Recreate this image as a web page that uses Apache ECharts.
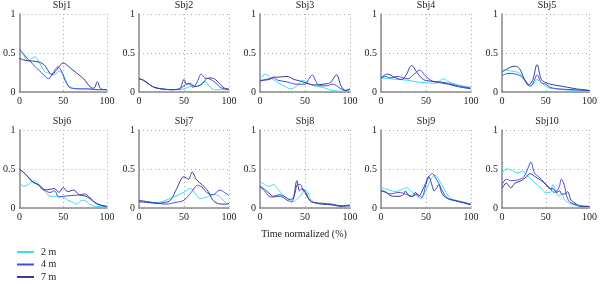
<!DOCTYPE html>
<html>
<head>
<meta charset="utf-8">
<script src="https://cdn.jsdelivr.net/npm/echarts@6/dist/echarts.min.js"></script>
<style>
    html, body { margin: 0; padding: 0; background: #fff; }
    #chart_content { width: 600px; height: 284px; }
    #err { position: absolute; left: 0; top: 0; font: 9px monospace; white-space: pre-wrap; width: 600px; }
</style>
</head>
<body>
<div id="chart_content"></div>
<div id="err"></div>
<script>
// subjects and series
var subjects = ["Sbj1", "Sbj2", "Sbj3", "Sbj4", "Sbj5", "Sbj6", "Sbj7", "Sbj8", "Sbj9", "Sbj10"];
var seriesNames = ["2 m", "4 m", "7 m"];
var xTicks = [0, 50, 100];
var yTicks = [0, 0.5, 1];

// [time %, value]
var sbj1_2m = [[0,.55],[5,.47],[10,.40],[15,.44],[18,.45],[21,.41],[25,.33],[30,.25],[35,.24],[40,.22],[45,.27],[50,.22],[55,.10],[60,.05],[65,.04],[75,.04],[85,.03],[100,.03]];
var sbj1_4m = [[0,.55],[5,.48],[10,.42],[15,.36],[20,.30],[25,.25],[30,.19],[33,.17],[38,.24],[44,.32],[48,.27],[52,.15],[57,.06],[60,.05],[70,.04],[80,.04],[90,.03],[100,.03]];
var sbj1_7m = [[0,.43],[5,.41],[10,.40],[20,.39],[28,.35],[33,.27],[37,.22],[42,.28],[50,.37],[55,.34],[60,.29],[68,.22],[75,.15],[81,.06],[85,.05],[89,.13],[93,.04],[100,.03]];

var sbj2_2m = [[0,.17],[5,.15],[10,.11],[15,.07],[20,.05],[25,.04],[35,.03],[45,.03],[50,.04],[55,.06],[60,.08],[65,.07],[72,.13],[75,.12],[80,.05],[85,.03],[100,.03]];
var sbj2_4m = [[0,.17],[5,.15],[10,.11],[15,.07],[20,.05],[25,.04],[35,.03],[45,.04],[50,.08],[55,.11],[60,.06],[65,.14],[69,.23],[73,.18],[78,.17],[85,.12],[90,.06],[95,.04],[100,.03]];
var sbj2_7m = [[0,.17],[5,.15],[10,.11],[15,.07],[20,.05],[25,.04],[35,.03],[45,.04],[50,.16],[53,.10],[57,.11],[62,.07],[70,.10],[75,.17],[80,.18],[85,.16],[90,.10],[95,.05],[100,.04]];

var sbj3_2m = [[0,.17],[6,.23],[12,.18],[20,.12],[28,.07],[34,.04],[40,.07],[48,.15],[53,.12],[60,.08],[70,.06],[80,.02],[90,.01],[100,.03]];
var sbj3_4m = [[0,.14],[10,.17],[15,.18],[20,.15],[30,.13],[40,.10],[50,.10],[54,.16],[58,.22],[62,.14],[66,.08],[75,.08],[80,.10],[85,.08],[90,.04],[95,.02],[100,.04]];
var sbj3_7m = [[0,.15],[10,.16],[15,.19],[20,.19],[30,.20],[38,.16],[45,.14],[55,.10],[60,.09],[70,.10],[78,.12],[85,.22],[90,.08],[95,.02],[100,.04]];

var sbj4_2m = [[0,.18],[10,.17],[20,.16],[30,.15],[40,.13],[50,.12],[60,.11],[66,.15],[70,.17],[74,.14],[80,.11],[90,.08],[100,.06]];
var sbj4_4m = [[0,.18],[5,.20],[10,.18],[19,.20],[25,.18],[30,.17],[36,.22],[43,.28],[50,.20],[57,.14],[65,.13],[75,.11],[85,.08],[100,.05]];
var sbj4_7m = [[0,.18],[7,.23],[15,.19],[23,.16],[28,.22],[34,.34],[40,.25],[47,.16],[55,.14],[65,.12],[75,.10],[85,.07],[100,.04]];

var sbj5_2m = [[0,.29],[10,.27],[20,.24],[27,.13],[32,.07],[37,.12],[40,.16],[45,.12],[52,.06],[60,.04],[70,.03],[85,.02],[100,.02]];
var sbj5_4m = [[0,.21],[8,.24],[15,.23],[22,.20],[30,.10],[33,.08],[37,.15],[40,.22],[45,.12],[50,.10],[55,.06],[65,.04],[80,.03],[100,.02]];
var sbj5_7m = [[0,.25],[8,.31],[15,.33],[20,.30],[25,.18],[30,.09],[35,.15],[40,.35],[45,.16],[50,.12],[55,.10],[65,.08],[75,.06],[85,.04],[100,.02]];

var sbj6_2m = [[0,.32],[5,.28],[10,.30],[17,.35],[22,.30],[30,.20],[35,.15],[42,.15],[50,.14],[55,.10],[60,.08],[65,.05],[72,.10],[76,.09],[80,.05],[88,.02],[100,.02]];
var sbj6_4m = [[0,.50],[8,.42],[15,.33],[22,.30],[30,.22],[35,.20],[40,.22],[45,.14],[50,.15],[60,.16],[70,.17],[74,.18],[80,.14],[87,.06],[95,.03],[100,.02]];
var sbj6_7m = [[0,.50],[8,.42],[15,.34],[22,.29],[28,.23],[35,.24],[40,.25],[45,.20],[50,.26],[55,.21],[62,.23],[68,.17],[73,.16],[78,.14],[85,.08],[92,.04],[100,.02]];

var sbj7_2m = [[0,.09],[10,.08],[20,.07],[30,.10],[40,.15],[50,.20],[57,.25],[63,.18],[68,.12],[75,.14],[82,.17],[86,.17],[92,.12],[97,.06],[100,.04]];
var sbj7_4m = [[0,.10],[10,.08],[20,.06],[30,.05],[40,.07],[50,.10],[58,.20],[65,.29],[70,.27],[75,.20],[82,.17],[90,.23],[95,.20],[100,.16]];
var sbj7_7m = [[0,.08],[10,.07],[20,.06],[28,.07],[35,.10],[42,.25],[50,.40],[55,.37],[59,.46],[64,.36],[70,.30],[75,.24],[77,.21],[82,.10],[87,.06],[92,.05],[97,.05],[100,.06]];

var sbj8_2m = [[0,.35],[5,.30],[10,.28],[15,.30],[20,.24],[27,.15],[33,.10],[37,.08],[42,.12],[46,.17],[50,.24],[53,.20],[57,.10],[62,.06],[70,.05],[80,.04],[90,.03],[100,.03]];
var sbj8_4m = [[0,.27],[5,.22],[10,.15],[15,.14],[20,.15],[25,.14],[30,.10],[35,.08],[38,.15],[42,.30],[45,.30],[48,.22],[51,.20],[55,.10],[60,.07],[70,.06],[80,.05],[90,.03],[100,.04]];
var sbj8_7m = [[0,.28],[5,.24],[10,.19],[15,.15],[22,.17],[28,.14],[33,.11],[37,.13],[41,.35],[44,.22],[47,.25],[51,.18],[55,.10],[60,.07],[70,.05],[80,.04],[90,.02],[100,.03]];

var sbj9_2m = [[0,.26],[10,.23],[15,.21],[22,.23],[28,.26],[35,.20],[40,.15],[44,.12],[48,.18],[52,.28],[56,.38],[60,.42],[65,.35],[70,.25],[75,.15],[80,.11],[90,.08],[100,.05]];
var sbj9_4m = [[0,.22],[5,.20],[10,.18],[20,.20],[27,.18],[35,.15],[40,.18],[45,.14],[50,.30],[53,.40],[57,.44],[60,.40],[65,.30],[70,.18],[75,.12],[85,.09],[100,.05]];
var sbj9_7m = [[0,.22],[5,.21],[10,.16],[15,.15],[20,.15],[25,.17],[27,.22],[32,.15],[35,.15],[38,.20],[42,.15],[45,.20],[49,.30],[53,.40],[57,.28],[59,.22],[62,.26],[64,.30],[68,.18],[74,.12],[80,.10],[90,.07],[100,.04]];

var sbj10_2m = [[0,.44],[5,.50],[10,.49],[18,.45],[23,.47],[30,.40],[35,.35],[40,.30],[45,.25],[50,.20],[55,.20],[58,.30],[62,.20],[65,.15],[68,.18],[72,.10],[80,.05],[90,.02],[100,.02]];
var sbj10_4m = [[0,.30],[5,.37],[10,.35],[18,.36],[25,.40],[30,.52],[33,.59],[37,.45],[42,.40],[48,.33],[55,.25],[60,.20],[65,.26],[68,.37],[71,.30],[75,.12],[80,.06],[90,.03],[100,.02]];
var sbj10_7m = [[0,.25],[5,.32],[10,.26],[15,.32],[22,.35],[28,.40],[32,.44],[38,.40],[45,.35],[50,.30],[55,.25],[58,.25],[62,.20],[66,.22],[68,.18],[72,.18],[75,.21],[79,.10],[85,.05],[90,.02],[100,.02]];

var curves = [
    [sbj1_2m, sbj1_4m, sbj1_7m],
    [sbj2_2m, sbj2_4m, sbj2_7m],
    [sbj3_2m, sbj3_4m, sbj3_7m],
    [sbj4_2m, sbj4_4m, sbj4_7m],
    [sbj5_2m, sbj5_4m, sbj5_7m],
    [sbj6_2m, sbj6_4m, sbj6_7m],
    [sbj7_2m, sbj7_4m, sbj7_7m],
    [sbj8_2m, sbj8_4m, sbj8_7m],
    [sbj9_2m, sbj9_4m, sbj9_7m],
    [sbj10_2m, sbj10_4m, sbj10_7m]
];

var colors = ["#30e0f0", "#4a4ae6", "#3a3a96"];
var font = "'Liberation Serif', serif";

var lefts = [17, 139, 260, 381, 502];
var tops = [14, 130];
var gridW = 90, gridH = 78;

function build() {
    var chart = echarts.init(document.getElementById("chart_content"));
    var option = {
        animation: false,
        color: colors,
        grid: [],
        xAxis: [],
        yAxis: [],
        series: [],
        title: [],
        legend: []
    };

    // one legend row per distance, stacked under the panels
    for (var k = 0; k < seriesNames.length; k++) {
        option.legend.push({
            left: 17,
            top: 247 + k * 12.5,
            itemWidth: 17,
            itemHeight: 2,
            icon: "rect",
            padding: 0,
            textStyle: { fontFamily: font, fontSize: 10, color: "#222", padding: [0, 0, 0, 2] },
            data: [seriesNames[k]]
        });
    }

    for (var i = 0; i < subjects.length; i++) {
        var left = lefts[i % 5];
        var top = tops[Math.floor(i / 5)];
        option.grid.push({ left: left, top: top, width: gridW, height: gridH });
        option.xAxis.push({
            gridIndex: i,
            type: "value",
            min: xTicks[0],
            max: xTicks[2],
            interval: xTicks[1] - xTicks[0],
            axisLine: { lineStyle: { color: "#8a8a8a", width: 1.5 } },
            axisTick: { show: false },
            axisLabel: { margin: 4, fontSize: 10, color: "#222", fontFamily: font },
            splitLine: { lineStyle: { type: [1, 3], color: "#a8a8a8", width: 1 } }
        });
        option.yAxis.push({
            gridIndex: i,
            type: "value",
            min: yTicks[0],
            max: yTicks[2],
            interval: yTicks[1] - yTicks[0],
            axisLine: { show: true, lineStyle: { color: "#8a8a8a", width: 1.5 } },
            axisTick: { show: false },
            axisLabel: { margin: 4, fontSize: 10, color: "#222", fontFamily: font },
            splitLine: { lineStyle: { type: [1, 3], color: "#a8a8a8", width: 1 } }
        });
        for (var s = 0; s < seriesNames.length; s++) {
            option.series.push({
                name: seriesNames[s],
                type: "line",
                xAxisIndex: i,
                yAxisIndex: i,
                smooth: 0.35,
                showSymbol: false,
                lineStyle: { width: 1, color: colors[s] },
                itemStyle: { color: colors[s] },
                data: curves[i][s]
            });
        }
        option.title.push({
            text: subjects[i],
            left: left + gridW / 2,
            top: top - 14,
            textAlign: "center",
            padding: 0,
            textStyle: { fontSize: 10, fontWeight: "normal", fontFamily: font, color: "#222" }
        });
    }

    option.title.push({
        text: "Time normalized (%)",
        left: 304,
        top: 229,
        textAlign: "center",
        padding: 0,
        textStyle: { fontSize: 10, fontWeight: "normal", fontFamily: font, color: "#222" }
    });

    chart.setOption(option, true);
    window.onresize = function () {
        chart.resize();
    };
}

try {
    build();
} catch (e) {
    document.getElementById("err").textContent = String(e && e.stack || e).slice(0, 1500);
}
</script>
</body>
</html>
